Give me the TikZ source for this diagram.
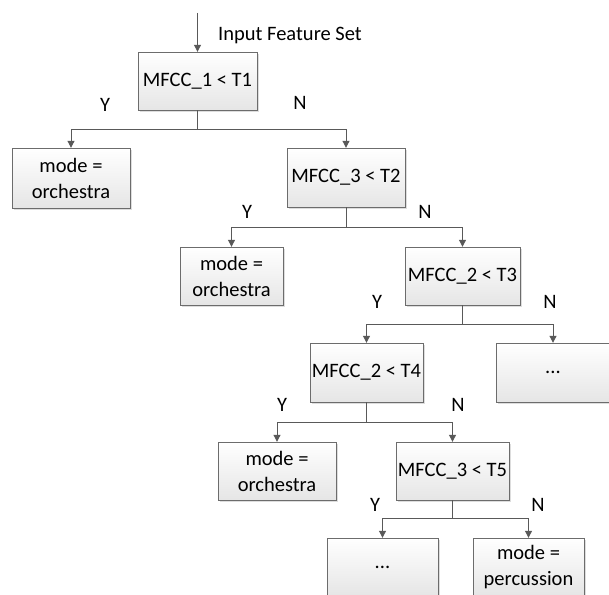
\documentclass[tikz,border=0pt]{standalone}
\usepackage{fontspec}
\setmainfont{Carlito}
\usetikzlibrary{arrows.meta,shadows}

\begin{document}
\begin{tikzpicture}[x=1pt,y=-1pt,
	box/.style={draw=gray!85!black, top color=white, bottom color=gray!20, drop shadow={shadow xshift=2pt,shadow yshift=-2pt,fill=gray!45,opacity=0.6}, align=center, inner sep=1pt, font=\fontsize{20.5}{26}\selectfont},
	lbl/.style={font=\fontsize{20.5}{24}\selectfont, inner sep=0pt},
	link/.style={draw=black!65, line width=1pt, -{Triangle[width=7pt,length=7pt]}}]
	\useasboundingbox (0,0) rectangle (609,594);
	\clip (0,0) rectangle (609,594);

	% decision boxes and leaves
	\node[box, minimum width=119, minimum height=58] (t1) at (197.5,81) {MFCC\_1 < T1};
	\node[box, minimum width=118, minimum height=60] (o1) at (71,178) {mode =\\orchestra};
	\node[box, minimum width=118, minimum height=59] (t2) at (346,177.5) {MFCC\_3 < T2};
	\node[box, minimum width=103, minimum height=58] (o2) at (231.5,276) {mode =\\orchestra};
	\node[box, minimum width=115, minimum height=58] (t3) at (462.5,276) {MFCC\_2 < T3};
	\node[box, minimum width=113, minimum height=59] (t4) at (366.5,372.5) {MFCC\_2 < T4};
	\node[box, minimum width=114, minimum height=59] (d1) at (553,372.5) {...};
	\node[box, minimum width=118, minimum height=58] (o3) at (277,471) {mode =\\orchestra};
	\node[box, minimum width=113, minimum height=58] (t5) at (452.5,471) {MFCC\_3 < T5};
	\node[box, minimum width=111, minimum height=58] (d2) at (382.5,567) {...};
	\node[box, minimum width=111, minimum height=58] (p) at (528.5,567) {mode =\\percussion};

	% input
	\coordinate (in) at (197.5,13);
	\draw[link] (in) -- (t1.north);
	\node[lbl, anchor=west] (inlbl) at (218,36) {Input Feature Set};

	% branches
	\draw[link] (t1.south) -- ++(0,19) -| (o1.north);
	\draw[link] (t1.south) -- ++(0,19) -| (t2.north);
	\draw[link] (t2.south) -- ++(0,20) -| (o2.north);
	\draw[link] (t2.south) -- ++(0,20) -| (t3.north);
	\draw[link] (t3.south) -- ++(0,19) -| (t4.north);
	\draw[link] (t3.south) -- ++(0,19) -| (d1.north);
	\draw[link] (t4.south) -- ++(0,20) -| (o3.north);
	\draw[link] (t4.south) -- ++(0,20) -| (t5.north);
	\draw[link] (t5.south) -- ++(0,18) -| (d2.north);
	\draw[link] (t5.south) -- ++(0,18) -| (p.north);

	% Y / N labels
	\node[lbl] (y1) at (105,105) {Y};
	\node[lbl] (n1) at (300,103) {N};
	\node[lbl] (y2) at (247,212) {Y};
	\node[lbl] (n2) at (425,212) {N};
	\node[lbl] (y3) at (377,302) {Y};
	\node[lbl] (n3) at (550,302) {N};
	\node[lbl] (y4) at (282,405) {Y};
	\node[lbl] (n4) at (458,405) {N};
	\node[lbl] (y5) at (375,505) {Y};
	\node[lbl] (n5) at (538,505) {N};
\end{tikzpicture}
\end{document}
